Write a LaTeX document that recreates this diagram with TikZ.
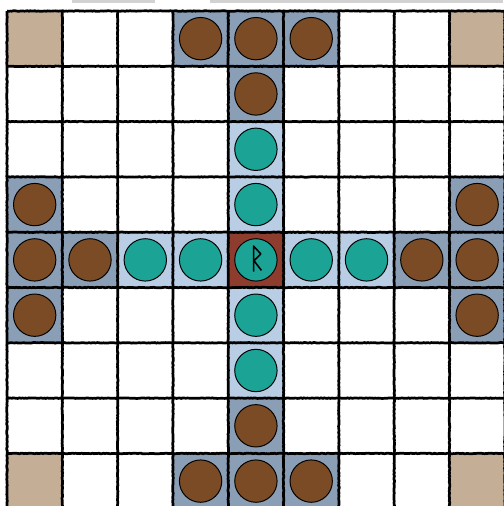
\documentclass[tikz,border=0pt]{standalone}
\usetikzlibrary{decorations.pathmorphing}
\definecolor{cornertile}{RGB}{196,175,150}
\definecolor{attackcell}{RGB}{138,158,182}
\definecolor{defendcell}{RGB}{185,206,228}
\definecolor{kingcell}{RGB}{142,60,46}
\definecolor{attackpiece}{RGB}{122,75,36}
\definecolor{defendpiece}{RGB}{27,163,150}
\definecolor{topbar}{RGB}{210,210,210}
\begin{document}
\begin{tikzpicture}[piece/.style={circle, draw=black, line width=0.5pt, minimum size=0.766cm, inner sep=0pt},
    gridline/.style={line width=1.4pt, decorate, decoration={random steps, segment length=0.8pt, amplitude=0.15pt}}]
        \useasboundingbox (-0.127,0.199) rectangle (8.97,-8.95);
        \fill[white] (-0.127,0.199) rectangle (8.97,-8.95);
        \fill[topbar] (1.175,0.199) rectangle (2.676,0.145);
        \fill[topbar] (3.671,0.199) rectangle (8.97,0.145);
        \foreach \c/\r in {0/0,8/0,0/8,8/8}
            \fill[cornertile] (\c,-\r) rectangle ++(1,-1);
        \foreach \c/\r in {3/0,4/0,5/0,4/1,3/8,4/8,5/8,4/7,0/3,0/4,0/5,1/4,8/3,8/4,8/5,7/4}
            \fill[attackcell] (\c,-\r) rectangle ++(1,-1);
        \foreach \c/\r in {4/2,4/3,4/5,4/6,2/4,3/4,5/4,6/4}
            \fill[defendcell] (\c,-\r) rectangle ++(1,-1);
        \fill[kingcell] (4,-4) rectangle ++(1,-1);
        \foreach \i in {0,...,9} {
            \draw[gridline] (\i,0) -- (\i,-9);
            \draw[gridline] (0,-\i) -- (9,-\i);
        }
        \foreach \n/\c/\r in {1/3/0,2/4/0,3/5/0,4/4/1,5/3/8,6/4/8,7/5/8,8/4/7,9/0/3,10/0/4,11/0/5,12/1/4,13/8/3,14/8/4,15/8/5,16/7/4}
            \node[piece, fill=attackpiece] (a\n) at (\c+0.5,-\r-0.5) {};
        \foreach \n/\c/\r in {1/4/2,2/4/3,3/4/5,4/4/6,5/2/4,6/3/4,7/5/4,8/6/4}
            \node[piece, fill=defendpiece] (d\n) at (\c+0.5,-\r-0.5) {};
        \node[piece, fill=defendpiece] (k) at (4.5,-4.5) {};
        \draw[line width=0.8pt, line join=round] ([shift={(-0.043,-0.21)}]k.center) -- ([shift={(-0.043,0.25)}]k.center)
            -- ([shift={(0.09,0.107)}]k.center) -- ([shift={(-0.035,-0.015)}]k.center) -- ([shift={(0.10,-0.19)}]k.center);
    \end{tikzpicture}
\end{document}
